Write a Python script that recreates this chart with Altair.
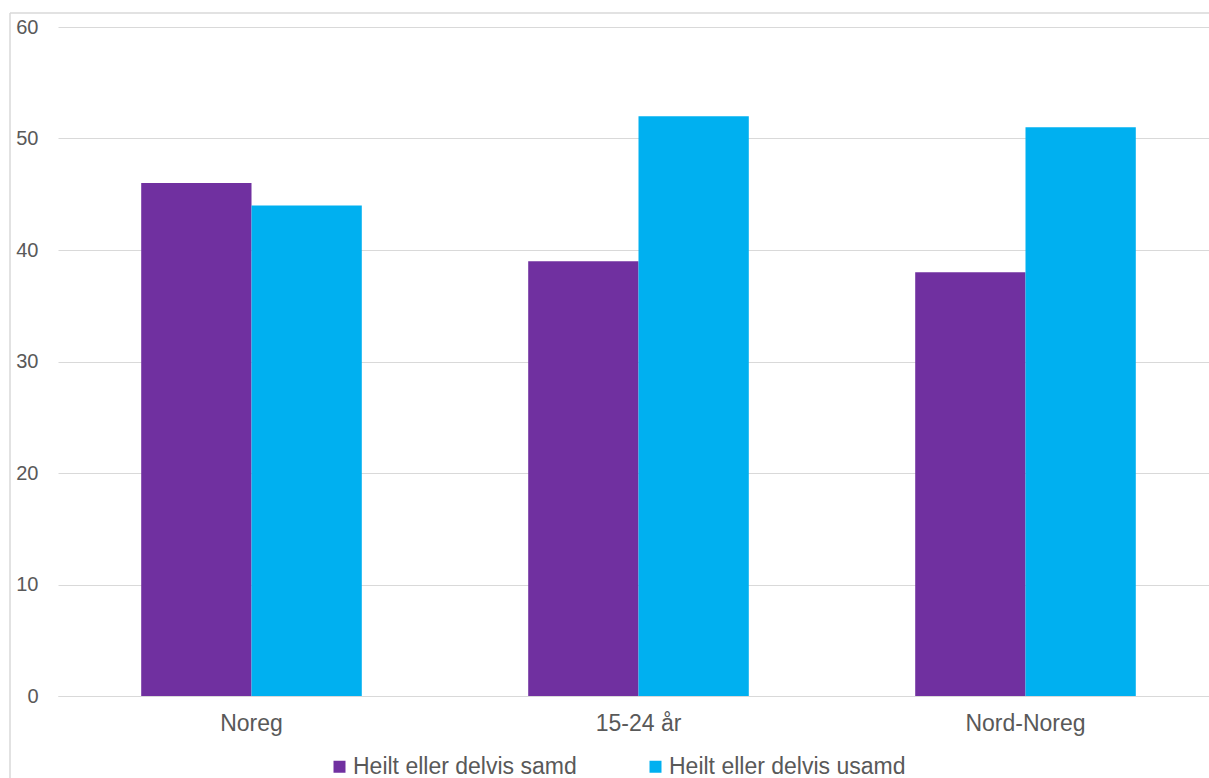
import altair as alt
import pandas as pd

categories = ["Noreg", "15-24 år", "Nord-Noreg"]
series_names = ["Heilt eller delvis samd", "Heilt eller delvis usamd"]
samd = [46, 39, 38]
usamd = [44, 52, 51]
colors = ["#7030A0", "#00B0F0"]
y_ticks = [0, 10, 20, 30, 40, 50, 60]

rows = []
for c, a, b in zip(categories, samd, usamd):
    rows.append({"kategori": c, "serie": series_names[0], "verdi": a})
    rows.append({"kategori": c, "serie": series_names[1], "verdi": b})
df = pd.DataFrame(rows)

W, H = 1151, 669
FONT = "Liberation Sans"
TXT = "#595959"
GRID = "#D9D9D9"

bars = alt.Chart(df).mark_bar().encode(
    x=alt.X("kategori:N", sort=categories, title=None,
            scale=alt.Scale(range=[0, 1161], paddingInner=0.43, paddingOuter=0.215),
            axis=alt.Axis(labelAngle=0, labelFontSize=23, labelFont=FONT, labelColor=TXT,
                          labelPadding=16, ticks=False, domain=True, domainColor=GRID,
                          domainWidth=1, grid=False)),
    xOffset=alt.XOffset("serie:N", sort=series_names,
                        scale=alt.Scale(paddingInner=0, paddingOuter=0)),
    y=alt.Y("verdi:Q", title=None,
            scale=alt.Scale(domain=[0, 60], nice=False),
            axis=alt.Axis(values=y_ticks, labelFontSize=20, labelFont=FONT, labelColor=TXT,
                          labelPadding=20, ticks=False, domain=False, grid=True,
                          gridColor=GRID, gridWidth=1)),
    color=alt.Color("serie:N", sort=series_names,
                    scale=alt.Scale(domain=series_names, range=colors),
                    legend=alt.Legend(title=None, orient="none", direction="horizontal",
                                      legendX=270, legendY=728,
                                      symbolType="square", symbolSize=144,
                                      symbolStrokeWidth=0, labelFontSize=23,
                                      labelFont=FONT, labelColor=TXT, labelOffset=2,
                                      columnPadding=67, labelLimit=400)),
)

frame_df = pd.DataFrame({"k": [0]})
left_line = alt.Chart(frame_df).mark_rule(color=GRID, strokeWidth=1.5).encode(
    x=alt.value(-48), y=alt.value(-14), y2=alt.value(760))
top_line = alt.Chart(frame_df).mark_rule(color=GRID, strokeWidth=1.5).encode(
    x=alt.value(-48), x2=alt.value(1160), y=alt.value(-14))

chart = alt.layer(bars, left_line, top_line).properties(
    width=W, height=H,
    background="white",
    autosize=alt.AutoSizeParams(type="none"),
    padding={"left": 58, "top": 27, "right": 0, "bottom": 82},
).configure_view(stroke="transparent", strokeWidth=0)

chart.save("out.html", embed_options={"renderer": "svg", "actions": False})
